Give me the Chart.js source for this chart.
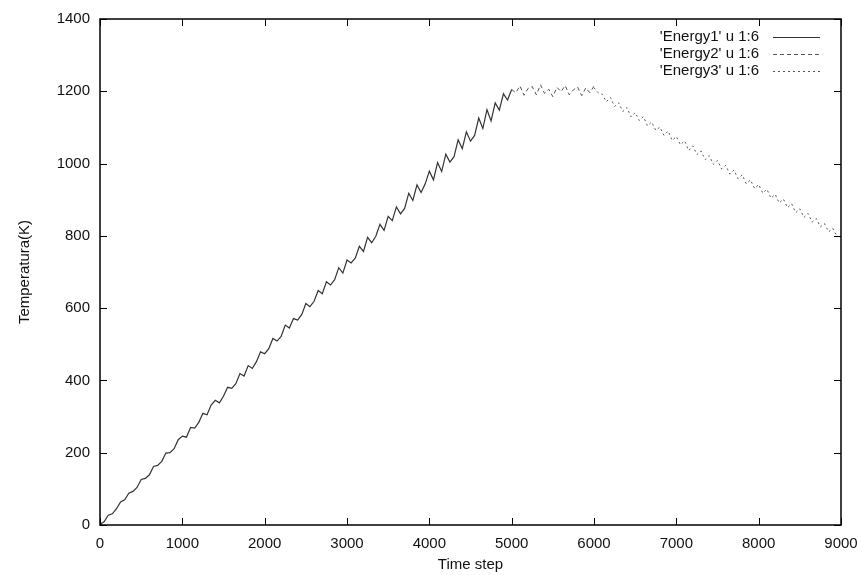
<!DOCTYPE html>
<html>
<head>
<meta charset="utf-8">
<script src="https://cdn.jsdelivr.net/npm/chart.js@4/dist/chart.umd.min.js"></script>
<style>
html,body{margin:0;padding:0;background:#fff;}
#wrap{width:863px;height:575px;}
</style>
</head>
<body>
<div id="wrap"><canvas id="c" width="863" height="575"></canvas></div>
<script>
// ---- data ----
const seriesLabels = ["'Energy1' u 1:6", "'Energy2' u 1:6", "'Energy3' u 1:6"];
const xTitle = "Time step";
const yTitle = "Temperatura(K)";

const steps1 = [0,50,100,150,200,250,300,350,400,450,500,550,600,650,700,750,800,850,900,950,
1000,1050,1100,1150,1200,1250,1300,1350,1400,1450,1500,1550,1600,1650,1700,1750,1800,1850,1900,1950,
2000,2050,2100,2150,2200,2250,2300,2350,2400,2450,2500,2550,2600,2650,2700,2750,2800,2850,2900,2950,
3000,3050,3100,3150,3200,3250,3300,3350,3400,3450,3500,3550,3600,3650,3700,3750,3800,3850,3900,3950,
4000,4050,4100,4150,4200,4250,4300,4350,4400,4450,4500,4550,4600,4650,4700,4750,4800,4850,4900,4950,5000];
const energy1 = [2,9,27,31,45,64,70,88,93,104,
126,129,139,162,165,176,199,200,211,236,
246,243,270,268,284,309,305,332,345,338,
356,381,378,391,419,412,441,433,452,479,
474,488,516,509,522,553,545,571,567,582,
613,604,619,649,640,673,664,679,712,697,
733,725,738,771,757,796,781,799,832,815,
854,842,880,861,876,918,898,941,920,944,
979,955,1003,978,1026,1004,1019,1066,1041,1088,
1062,1078,1126,1097,1149,1118,1168,1148,1193,1176,
1205];

const steps2 = [5000,5050,5100,5150,5200,5250,5300,5350,5400,5450,5500,5550,5600,5650,5700,5750,5800,5850,5900,5950,6000];
const energy2 = [1205,1196,1215,1189,1208,1213,1190,1218,1194,1206,1185,1211,1199,1216,1190,1204,1212,1188,1209,1196,1214];

const steps3 = [6000,6050,6100,6150,6200,6250,6300,6350,6400,6450,6500,6550,6600,6650,6700,6750,6800,6850,6900,6950,
7000,7050,7100,7150,7200,7250,7300,7350,7400,7450,7500,7550,7600,7650,7700,7750,7800,7850,7900,7950,
8000,8050,8100,8150,8200,8250,8300,8350,8400,8450,8500,8550,8600,8650,8700,8750,8800,8850,8900,8950,9000];
const energy3 = [1210,1196,1192,1171,1183,1158,1168,1144,1155,1129,1141,1119,1130,1104,1115,1092,1101,1078,1090,1064,
1075,1052,1063,1036,1049,1025,1035,1011,1022,998,1009,985,995,971,982,958,969,944,955,931,
942,918,929,904,915,891,902,878,889,864,875,851,862,838,848,825,834,811,821,799,797];

const xTicks = [0,1000,2000,3000,4000,5000,6000,7000,8000,9000];
const yTicks = [0,200,400,600,800,1000,1200,1400];

// ---- build ----
function pts(xs, ys){ return xs.map((x,i)=>({x:x, y:ys[i]})); }
const FONT = "'Liberation Sans', Arial, Helvetica, sans-serif";

const frameTicks = {
  id:'frameTicks',
  afterDraw(chart){
    const {ctx, chartArea:a, scales:{x,y}} = chart;
    ctx.save();
    ctx.strokeStyle = '#000';
    ctx.lineWidth = 1;
    const L = 7;
    ctx.beginPath();
    xTicks.forEach(v=>{
      const px = Math.round(x.getPixelForValue(v))+0.5;
      ctx.moveTo(px, a.bottom); ctx.lineTo(px, a.bottom-L);
      ctx.moveTo(px, a.top); ctx.lineTo(px, a.top+L);
    });
    yTicks.forEach(v=>{
      const py = Math.round(y.getPixelForValue(v))+0.5;
      ctx.moveTo(a.left, py); ctx.lineTo(a.left+L, py);
      ctx.moveTo(a.right, py); ctx.lineTo(a.right-L, py);
    });
    ctx.stroke();
    ctx.lineWidth = 1.5;
    ctx.strokeRect(a.left, a.top, a.right-a.left, a.bottom-a.top);
    // legend
    ctx.font = '15px ' + FONT;
    ctx.textAlign = 'right';
    ctx.textBaseline = 'middle';
    chart.data.datasets.forEach((ds,i)=>{
      const yy = 37 + i*17;
      ctx.fillStyle = '#111';
      ctx.fillText(ds.label, 759, yy);
      ctx.beginPath();
      ctx.setLineDash(ds.borderDash || []);
      ctx.strokeStyle = ds.borderColor;
      ctx.lineWidth = 1;
      ctx.moveTo(773, yy+0.5); ctx.lineTo(820, yy+0.5);
      ctx.stroke();
    });
    ctx.restore();
  }
};

new Chart(document.getElementById('c'), {
  type:'line',
  data:{
    datasets:[
      {label:seriesLabels[0], data:pts(steps1, energy1), borderColor:'#333', borderWidth:1.2, pointRadius:0, fill:false, tension:0},
      {label:seriesLabels[1], data:pts(steps2, energy2), borderColor:'#555', borderWidth:1, borderDash:[4,3], pointRadius:0, fill:false, tension:0},
      {label:seriesLabels[2], data:pts(steps3, energy3), borderColor:'#555', borderWidth:1, borderDash:[2,3], pointRadius:0, fill:false, tension:0}
    ]
  },
  options:{
    responsive:false,
    animation:false,
    events:[],
    layout:{autoPadding:false, padding:{left:0, right:22, top:19, bottom:0}},
    plugins:{legend:{display:false}, tooltip:{enabled:false}},
    scales:{
      x:{
        type:'linear', min:0, max:9000,
        afterBuildTicks(s){ s.ticks = xTicks.map(v=>({value:v})); },
        afterFit(s){ s.height = 50; s.paddingLeft = 0; s.paddingRight = 0; },
        grid:{display:false, drawTicks:false},
        border:{display:false},
        ticks:{color:'#111', padding:10, font:{family:FONT, size:15}, maxRotation:0, autoSkip:false, callback:(v)=>String(v)},
        title:{display:true, text:xTitle, color:'#111', font:{family:FONT, size:15}, padding:{top:0, bottom:1}}
      },
      y:{
        type:'linear', min:0, max:1400,
        afterBuildTicks(s){ s.ticks = yTicks.map(v=>({value:v})); },
        afterFit(s){ s.width = 100; s.paddingTop = 0; s.paddingBottom = 0; },
        grid:{display:false, drawTicks:false},
        border:{display:false},
        ticks:{color:'#111', padding:10, font:{family:FONT, size:15}, autoSkip:false, callback:(v)=>String(v)},
        title:{display:true, text:yTitle, color:'#111', font:{family:FONT, size:15}, padding:{top:16, bottom:0}}
      }
    }
  },
  plugins:[frameTicks]
});
</script>
</body>
</html>
